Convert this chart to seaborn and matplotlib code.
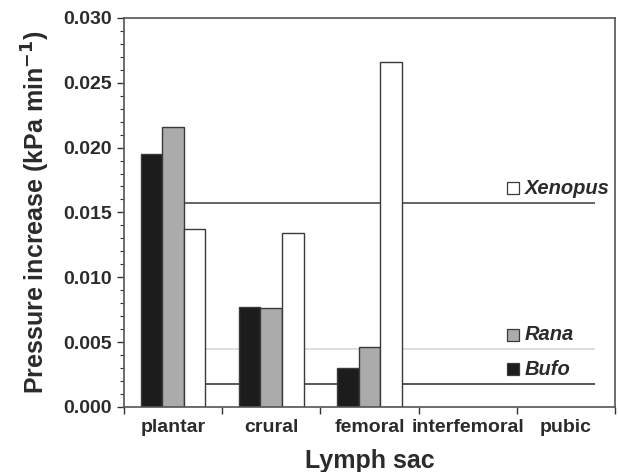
import numpy as np
import pandas as pd
import matplotlib
matplotlib.use("Agg")
import matplotlib.pyplot as plt
import seaborn as sns

# Lymph sacs and the three species
sacs = ["plantar", "crural", "femoral", "interfemoral", "pubic"]
species = ["Bufo", "Rana", "Xenopus"]

# Pressure increase (kPa min-1); no data for interfemoral/pubic
bufo = [0.0195, 0.0077, 0.0030, np.nan, np.nan]
rana = [0.0216, 0.0076, 0.0046, np.nan, np.nan]
xenopus = [0.0137, 0.0134, 0.0266, np.nan, np.nan]

# species mean lines
mean_lines = {"Bufo": 0.0018, "Rana": 0.00446, "Xenopus": 0.01576}

colors = {"Bufo": "#1c1c1c", "Rana": "#ababab", "Xenopus": "#ffffff"}
line_colors = {"Bufo": "#2a2a2a", "Rana": "#d4d4d4", "Xenopus": "#3a3a3a"}

df = pd.DataFrame({
    "sac": sacs * 3,
    "species": ["Bufo"] * 5 + ["Rana"] * 5 + ["Xenopus"] * 5,
    "value": bufo + rana + xenopus,
})

sns.set_style("ticks")
plt.rcParams["font.family"] = ["Liberation Sans", "DejaVu Sans"]
plt.rcParams["font.weight"] = "bold"

fig, ax = plt.subplots(figsize=(6.18, 4.72), dpi=100)
fig.subplots_adjust(left=0.2006, right=0.995, bottom=0.138, top=0.962)

group_w = 0.66
bar_w = group_w / 3

# mean lines behind the bars, starting at the plantar Xenopus bar
x_start = 0 + bar_w - bar_w / 2
x_end = 4.30
for sp in species:
    ax.hlines(mean_lines[sp], x_start, x_end, color=line_colors[sp], lw=1.1, zorder=1)

sns.barplot(data=df, x="sac", y="value", hue="species", order=sacs,
            hue_order=species, palette=colors, width=group_w, dodge=True,
            edgecolor="#3a3a3a", linewidth=1.0, saturation=1, legend=False,
            errorbar=None, ax=ax, zorder=2)

ax.set_xlim(-0.5, 4.5)
ax.set_ylim(0, 0.030)
ax.set_yticks(np.arange(0, 0.0301, 0.005))
ax.set_yticks(np.arange(0, 0.0301, 0.001), minor=True)
ax.set_yticklabels([f"{v:.3f}" for v in np.arange(0, 0.0301, 0.005)])

# category labels between boundary ticks
ax.set_xticks(np.arange(-0.5, 4.51, 1.0))
ax.set_xticklabels([])
ax.set_xticks(range(len(sacs)), minor=True)
ax.set_xticklabels(sacs, minor=True)
ax.tick_params(axis="x", which="minor", length=0, pad=9, labelsize=14,
               labelcolor="#2b2b2b")
ax.tick_params(axis="x", which="major", length=5, width=1, color="#333333")
ax.tick_params(axis="y", which="major", length=5, width=1, color="#333333",
               labelsize=14, labelcolor="#2b2b2b")
ax.tick_params(axis="y", which="minor", length=3, width=0.8, color="#333333")
for lab in ax.get_xticklabels(minor=True) + ax.get_yticklabels():
    lab.set_fontweight("bold")

for sp in ax.spines.values():
    sp.set_visible(True)
    sp.set_color("#555555")
    sp.set_linewidth(1.2)

ax.set_xlabel("Lymph sac", fontsize=18, fontweight="bold", color="#2b2b2b", labelpad=9)
ax.set_ylabel("Pressure increase (kPa min$^{\\mathbf{-1}}$)", fontsize=18,
              fontweight="bold", color="#2b2b2b", labelpad=8)

# species labels next to their mean lines
label_x = 3.46
for sp in species:
    y = mean_lines[sp] + 0.0011
    ax.plot([label_x], [y], marker="s", markersize=8, mfc=colors[sp],
            mec="#3a3a3a", mew=0.9, zorder=3, clip_on=False)
    ax.text(label_x + 0.12, y, sp, fontsize=14.5, fontweight="bold",
            fontstyle="italic", color="#2b2b2b", va="center", ha="left")

fig.savefig("out.png", dpi=100)
